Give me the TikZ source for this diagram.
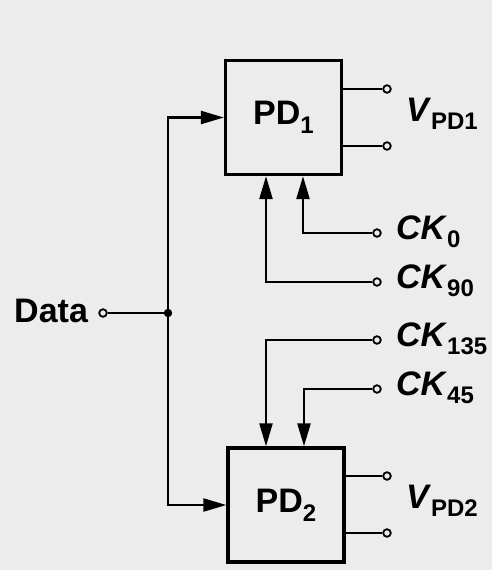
\documentclass[tikz,border=0pt]{standalone}
\usepackage{fontspec}
\setmainfont{Liberation Sans}
\usetikzlibrary{arrows.meta}
\definecolor{paper}{RGB}{236,236,236}
\newcommand{\sub}[1]{\raisebox{-0.5ex}{\fontsize{12}{12}\selectfont #1}}

\begin{document}
\begin{tikzpicture}[x=0.5pt, y=-0.5pt,
    font=\fontsize{17}{19}\selectfont\bfseries,
    block/.style={draw, line width=1.7pt, minimum width=58pt, minimum height=57pt, inner sep=0pt},
    term/.style={circle, draw, line width=0.9pt, fill=paper, inner sep=0pt, minimum size=3.8pt},
    wire/.style={line width=1.2pt},
    arr/.style={wire, -{Triangle[length=11.5pt, width=6.5pt]}}]
    \useasboundingbox[fill=paper] (0,0) rectangle (492,570);
    % phase detectors
    \node[block] (pd1) at (283.5,117.5) {PD\sub{1}};
    \node[block] (pd2) at (286,505) {PD\sub{2}};
    % data input
    \node[term] (din) at (103,313) {};
    \node[anchor=east] (datalbl) at (95,311) {Data};
    \coordinate (j) at (168,313);
    \draw[wire] (din) -- (j);
    \fill (j) circle (2.1pt);
    \draw[arr] (j) |- (pd1.west);
    \draw[arr] (j) |- (pd2.west);
    % clocks
    \node[term] (ck0) at (377,233) {};
    \node[term] (ck90) at (377,282) {};
    \node[term] (ck135) at (377,340) {};
    \node[term] (ck45) at (377,389) {};
    \node[anchor=base west] (ck0lbl) at (389,239) {\textit{CK}\sub{0}};
    \node[anchor=base west] (ck90lbl) at (389,288) {\textit{CK}\sub{90}};
    \node[anchor=base west] (ck135lbl) at (389,346) {\textit{CK}\sub{135}};
    \node[anchor=base west] (ck45lbl) at (389,395) {\textit{CK}\sub{45}};
    \draw[arr] (ck0) -| ([xshift=9.75pt]pd1.south);
    \draw[arr] (ck90) -| ([xshift=-8.75pt]pd1.south);
    \draw[arr] (ck135) -| ([xshift=-10pt]pd2.north);
    \draw[arr] (ck45) -| ([xshift=9pt]pd2.north);
    % outputs
    \node[term] (o1a) at (387,89) {};
    \node[term] (o1b) at (387,146) {};
    \node[term] (o2a) at (387,476) {};
    \node[term] (o2b) at (387,533) {};
    \draw[wire] (pd1.east |- o1a) -- (o1a);
    \draw[wire] (pd1.east |- o1b) -- (o1b);
    \draw[wire] (pd2.east |- o2a) -- (o2a);
    \draw[wire] (pd2.east |- o2b) -- (o2b);
    \node[anchor=base west] (v1lbl) at (399,121) {\textit{V}\sub{PD1}};
    \node[anchor=base west] (v2lbl) at (399,508) {\textit{V}\sub{PD2}};
\end{tikzpicture}
\end{document}
